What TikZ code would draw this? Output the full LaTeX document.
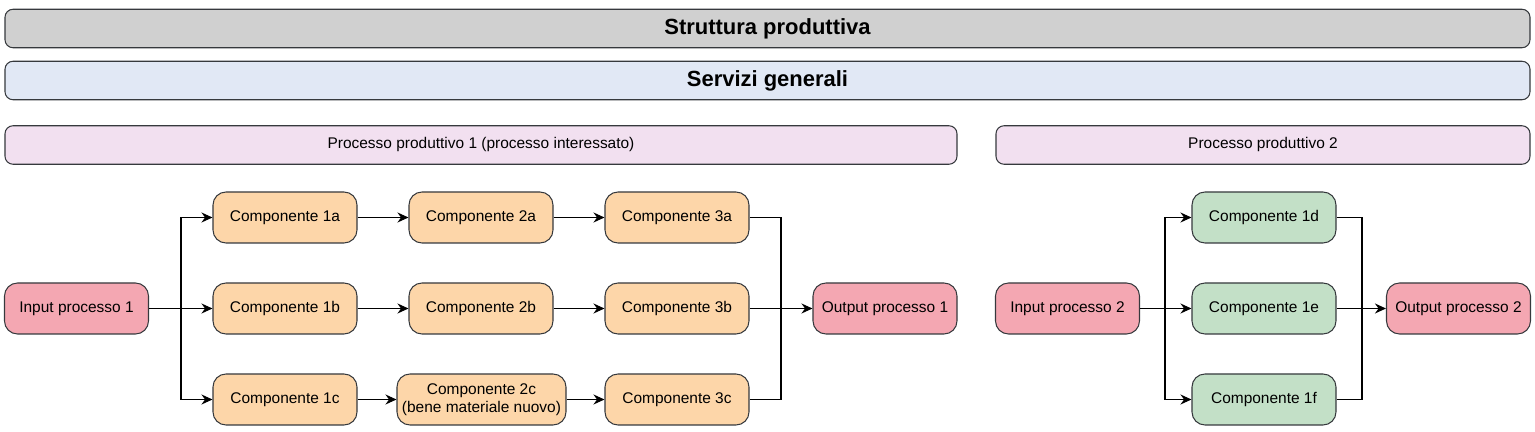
\documentclass[tikz,border=0pt]{standalone}
\usepackage{fontspec}
\setmainfont{Liberation Sans}
\usepackage{tikz}
\usetikzlibrary{arrows.meta}

\definecolor{grigio}{HTML}{D0D0D0}
\definecolor{azzurro}{HTML}{E1E8F5}
\definecolor{lilla}{HTML}{F2E0F0}
\definecolor{arancio}{HTML}{FDD6A9}
\definecolor{rosa}{HTML}{F4A7B2}
\definecolor{verde}{HTML}{C3E0C7}
\definecolor{bordo}{HTML}{36393D}

\tikzset{
  blocco/.style={draw=bordo, rounded corners=2.6mm, inner sep=0pt, align=center,
    font=\fontsize{8.8}{10.4}\selectfont, minimum width=2.88cm, minimum height=1.02cm},
  barra/.style={draw=bordo, rounded corners=1.6mm, inner sep=0pt,
    font=\fontsize{8.8}{10.4}\selectfont, minimum height=0.77cm},
  titolo/.style={barra, font=\fontsize{12.5}{14}\selectfont\bfseries, minimum width=30.5cm}
}

\begin{document}
\begin{tikzpicture}[>={Stealth[length=2.2mm,width=2mm]}, semithick]
		\useasboundingbox (0,0) rectangle (30.7,-8.64);
		% Livelli generali
		\node[titolo, fill=grigio] (strut) at (15.35,-0.57) {Struttura produttiva};
		\node[titolo, fill=azzurro] (serv) at (15.35,-1.61) {Servizi generali};
		\node[barra, fill=lilla, minimum width=19.04cm] (proc1) at (9.62,-2.90) {Processo produttivo 1 (processo interessato)};
		\node[barra, fill=lilla, minimum width=10.68cm] (proc2) at (25.26,-2.90) {Processo produttivo 2};
		% Processo 1
		\node[blocco, fill=rosa] (in1) at (1.53,-6.17) {Input processo 1};
		\node[blocco, fill=arancio] (c1a) at (5.70,-4.35) {Componente 1a};
		\node[blocco, fill=arancio] (c1b) at (5.70,-6.17) {Componente 1b};
		\node[blocco, fill=arancio] (c1c) at (5.70,-7.99) {Componente 1c};
		\node[blocco, fill=arancio] (c2a) at (9.62,-4.35) {Componente 2a};
		\node[blocco, fill=arancio] (c2b) at (9.62,-6.17) {Componente 2b};
		\node[blocco, fill=arancio, minimum width=3.38cm] (c2c) at (9.63,-7.99) {Componente 2c\\(bene materiale nuovo)};
		\node[blocco, fill=arancio] (c3a) at (13.54,-4.35) {Componente 3a};
		\node[blocco, fill=arancio] (c3b) at (13.54,-6.17) {Componente 3b};
		\node[blocco, fill=arancio] (c3c) at (13.54,-7.99) {Componente 3c};
		\node[blocco, fill=rosa] (out1) at (17.70,-6.17) {Output processo 1};
		\coordinate (split1) at (3.62,-6.17);
		\coordinate (merge1) at (15.62,-6.17);
		% Collegamenti processo 1
		\draw[->] (in1.east) -- (c1b.west);
		\draw[->] (split1) |- (c1a.west);
		\draw[->] (split1) |- (c1c.west);
		\draw[->] (c1a) -- (c2a);
		\draw[->] (c1b) -- (c2b);
		\draw[->] (c1c) -- (c2c);
		\draw[->] (c2a) -- (c3a);
		\draw[->] (c2b) -- (c3b);
		\draw[->] (c2c) -- (c3c);
		\draw (c3a.east) -| (merge1);
		\draw (c3c.east) -| (merge1);
		\draw[->] (c3b.east) -- (out1.west);
		% Processo 2
		\node[blocco, fill=rosa] (in2) at (21.35,-6.17) {Input processo 2};
		\node[blocco, fill=verde] (c1d) at (25.28,-4.35) {Componente 1d};
		\node[blocco, fill=verde] (c1e) at (25.28,-6.17) {Componente 1e};
		\node[blocco, fill=verde] (c1f) at (25.28,-7.99) {Componente 1f};
		\node[blocco, fill=rosa] (out2) at (29.17,-6.17) {Output processo 2};
		\coordinate (split2) at (23.30,-6.17);
		\coordinate (merge2) at (27.24,-6.17);
		% Collegamenti processo 2
		\draw[->] (in2.east) -- (c1e.west);
		\draw[->] (split2) |- (c1d.west);
		\draw[->] (split2) |- (c1f.west);
		\draw (c1d.east) -| (merge2);
		\draw (c1f.east) -| (merge2);
		\draw[->] (c1e.east) -- (out2.west);
	\end{tikzpicture}
\end{document}
